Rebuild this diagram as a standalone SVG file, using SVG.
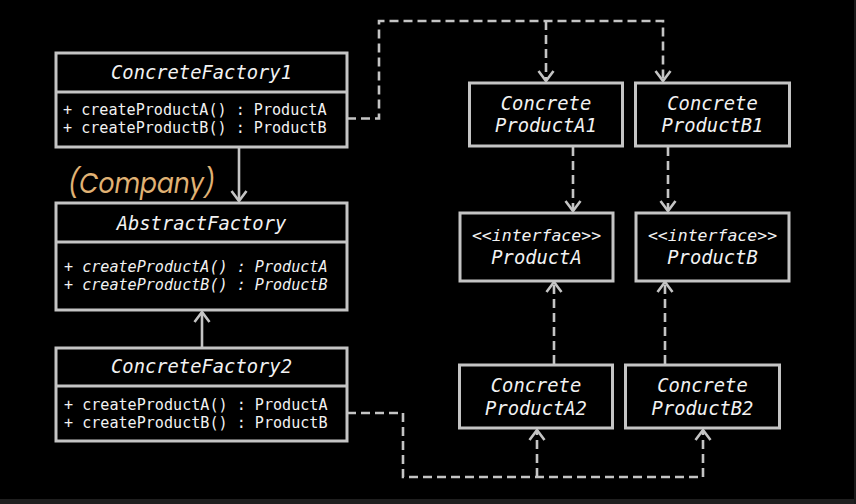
<svg xmlns="http://www.w3.org/2000/svg" width="856" height="504" viewBox="0 0 856 504">
<style>
.box{fill:#000;stroke:#c4c4c4;stroke-width:3}
.div{stroke:#c4c4c4;stroke-width:3}
.t{fill:#f2f2f2;font-family:"DejaVu Sans Mono","Liberation Mono",monospace}
.ti{font-style:italic}
.title{font-size:18.8px;text-anchor:middle;font-style:italic}
.m{font-size:15.1px}
.c{fill:none;stroke:#c4c4c4;stroke-width:2.6}
.d{stroke-dasharray:9 5}
.arr{marker-end:url(#ah)}
</style>
<defs>
<marker id="ah" markerUnits="userSpaceOnUse" viewBox="-13 -10 15 20" markerWidth="15" markerHeight="20" refX="0" refY="0" orient="auto">
<path d="M-10,-7.5 L0,0 L-10,7.5" fill="none" stroke="#c4c4c4" stroke-width="2.6" stroke-dasharray="none"/>
</marker>
</defs>
<rect x="0" y="0" width="856" height="504" fill="#000"/>
<rect x="0" y="499" width="856" height="5" fill="#1f1f1f"/>
<rect x="854" y="0" width="2" height="504" fill="#1a1a1a"/>

<g id="connectors">
<path class="c arr" d="M239,147 V201"/>
<path class="c arr" d="M202,348 V312"/>
<path class="c d arr" d="M347,118.5 H379 V21 H663 V81"/>
<path class="c d arr" d="M546,21 V81"/>
<path class="c d arr" d="M573,147 V211"/>
<path class="c d arr" d="M668,147 V211"/>
<path class="c d arr" d="M554,364 V282"/>
<path class="c d arr" d="M665,364 V282"/>
<path class="c d arr" d="M347,413 H403 V477 H703 V430"/>
<path class="c d arr" d="M537,477 V430"/>
</g>

<text x="68" y="193" font-family="Poppins,'Open Sans','Liberation Sans',sans-serif" font-style="italic" font-size="28" fill="#e0b274" textLength="147" lengthAdjust="spacingAndGlyphs">(Company)</text>

<g id="ConcreteFactory1">
<rect class="box" x="56" y="53" width="291" height="94"/>
<line class="div" x1="56" y1="92" x2="347" y2="92"/>
<text class="t title" x="201.5" y="79">ConcreteFactory1</text>
<text class="t m" x="63" y="115">+ createProductA() : ProductA</text>
<text class="t m" x="63" y="133">+ createProductB() : ProductB</text>
</g>

<g id="AbstractFactory">
<rect class="box" x="56" y="203" width="291" height="107"/>
<line class="div" x1="56" y1="242" x2="347" y2="242"/>
<text class="t title" x="201.5" y="230">AbstractFactory</text>
<text class="t m ti" x="64" y="272">+ createProductA() : ProductA</text>
<text class="t m ti" x="64" y="290">+ createProductB() : ProductB</text>
</g>

<g id="ConcreteFactory2">
<rect class="box" x="56" y="348" width="291" height="93"/>
<line class="div" x1="56" y1="386" x2="347" y2="386"/>
<text class="t title" x="201.5" y="373">ConcreteFactory2</text>
<text class="t m" x="64" y="409.5">+ createProductA() : ProductA</text>
<text class="t m" x="64" y="428">+ createProductB() : ProductB</text>
</g>

<g id="ConcreteProductA1">
<rect class="box" x="469.5" y="83" width="153" height="63"/>
<text class="t title" x="546" y="109.5">Concrete</text>
<text class="t title" x="546" y="132">ProductA1</text>
</g>

<g id="ConcreteProductB1">
<rect class="box" x="635.5" y="83" width="154" height="63"/>
<text class="t title" x="712.5" y="109.5">Concrete</text>
<text class="t title" x="712.5" y="132">ProductB1</text>
</g>

<g id="ProductA">
<rect class="box" x="460" y="213" width="153" height="68"/>
<text class="t ti" x="536.5" y="241" font-size="16.5" text-anchor="middle">&lt;&lt;interface&gt;&gt;</text>
<text class="t title" x="536.5" y="263.5" font-size="19px">ProductA</text>
</g>

<g id="ProductB">
<rect class="box" x="636" y="213" width="153" height="68"/>
<text class="t ti" x="712.5" y="241" font-size="16.5" text-anchor="middle">&lt;&lt;interface&gt;&gt;</text>
<text class="t title" x="712.5" y="263.5" font-size="19px">ProductB</text>
</g>

<g id="ConcreteProductA2">
<rect class="box" x="459.5" y="365" width="153" height="63"/>
<text class="t title" x="536" y="391.5">Concrete</text>
<text class="t title" x="536" y="414.5">ProductA2</text>
</g>

<g id="ConcreteProductB2">
<rect class="box" x="625.5" y="365" width="154" height="63"/>
<text class="t title" x="702.5" y="391.5">Concrete</text>
<text class="t title" x="702.5" y="414.5">ProductB2</text>
</g>
</svg>
